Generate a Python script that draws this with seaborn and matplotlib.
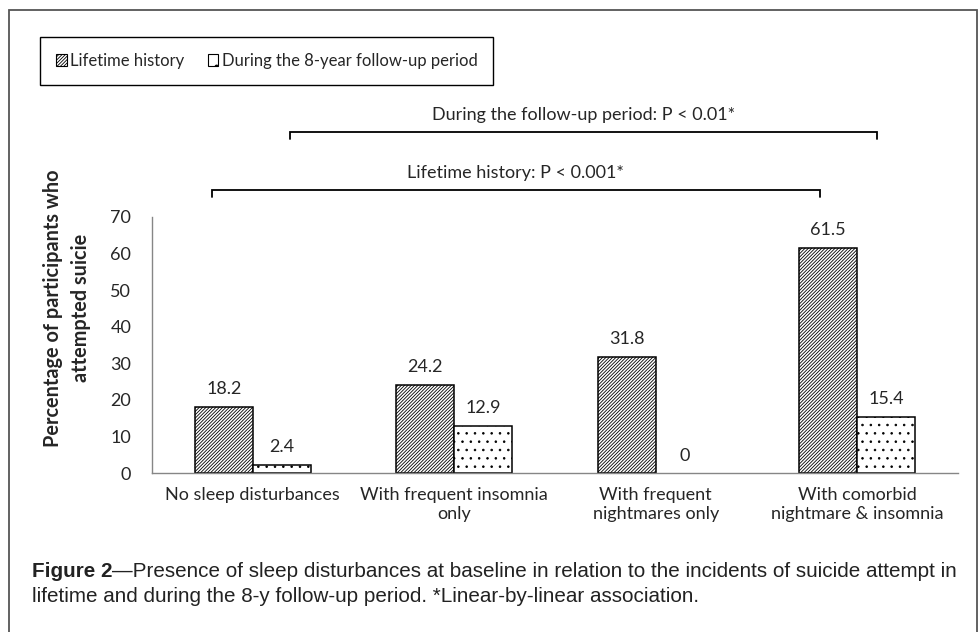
import matplotlib
matplotlib.use("Agg")
import matplotlib.pyplot as plt
from matplotlib.patches import Patch, Rectangle
import seaborn as sns
import pandas as pd

# ---- data ----
categories = ["No sleep disturbances", "With frequent insomnia\nonly",
              "With frequent\nnightmares only", "With comorbid\nnightmare & insomnia"]
series = ["Lifetime history", "During the 8-year follow-up period"]
lifetime = [18.2, 24.2, 31.8, 61.5]
followup = [2.4, 12.9, 0, 15.4]
y_ticks = [0, 10, 20, 30, 40, 50, 60, 70]
ylabel = "Percentage of participants who\nattempted suicie"
bracket_labels = ["Lifetime history: P < 0.001*", "During the follow-up period: P < 0.01*"]
bracket_x = [(-0.203, 2.814), (0.184, 3.10)]
bracket_y = [77.3, 93.1]
caption_bold = "Figure 2"
caption_line1 = "\u2014Presence of sleep disturbances at baseline in relation to the incidents of suicide attempt in"
caption_line2 = "lifetime and during the 8-y follow-up period. *Linear-by-linear association."

sns.set_style("white")
plt.rcParams["font.family"] = ["Lato", "DejaVu Sans"]
plt.rcParams["hatch.linewidth"] = 0.6
plt.rcParams["hatch.color"] = "black"

df = pd.DataFrame({
    "category": categories * 2,
    "series": [series[0]] * 4 + [series[1]] * 4,
    "value": lifetime + followup,
})

fig = plt.figure(figsize=(9.8, 6.32), dpi=100)
ax = fig.add_axes([152 / 980, 1 - 473.3 / 632, 806 / 980, (473.3 - 216.7) / 632])

sns.barplot(data=df, x="category", y="value", hue="series", order=categories,
            hue_order=series, palette=["white", "white"], saturation=1,
            width=0.575, gap=0, edgecolor="black", linewidth=1.1,
            legend=False, ax=ax, err_kws={"linewidth": 0})

hatches = ["//////////", ".."]
for cont, h in zip(ax.containers, hatches):
    for bar in cont:
        bar.set_hatch(h)
        if bar.get_height() == 0:
            bar.set_linewidth(0)

for cont, vals in zip(ax.containers, [lifetime, followup]):
    ax.bar_label(cont, labels=[f"{v:g}" for v in vals], padding=7, fontsize=13)

ax.set_ylim(0, 70)
ax.set_xlim(-0.5, 3.5)
ax.set_yticks(y_ticks)
ax.set_xticks([-0.5, 0.5, 1.5, 2.5, 3.5])
ax.set_xticklabels([])
ax.set_xticks(range(len(categories)), minor=True)
ax.set_xticklabels(categories, minor=True, fontsize=13)
for t in ax.get_xticklabels(minor=True):
    t.set_linespacing(1.2)
ax.tick_params(axis="x", which="major", direction="out", length=5, width=1, color="#868686")
ax.tick_params(axis="x", which="minor", length=0, pad=10)
ax.tick_params(axis="y", direction="out", length=5, width=1, color="#868686", pad=10, labelsize=13)
ax.set_xlabel("")
ax.set_ylabel("")
for s in ["top", "right"]:
    ax.spines[s].set_visible(False)
for s in ["left", "bottom"]:
    ax.spines[s].set_color("#868686")
    ax.spines[s].set_linewidth(1)

# significance brackets
for lab, (x1, x2), yb in zip(bracket_labels, bracket_x, bracket_y):
    tick = 2.0
    ax.plot([x1, x1, x2, x2], [yb - tick, yb, yb, yb - tick], color="black",
            lw=1.3, clip_on=False, solid_joinstyle="miter")
    ax.text((x1 + x2) / 2, yb + 4.6, lab, ha="center", va="center", fontsize=13,
            clip_on=False)

fig.text(67 / 980, 1 - 308 / 632, ylabel, rotation=90, ha="center", va="center",
         fontsize=14.3, fontweight="bold", multialignment="center", linespacing=1.55)

# legend
handles = [Patch(facecolor="white", edgecolor="black", hatch=h, linewidth=0.8)
           for h in ["//////////", "."]]
leg = fig.legend(handles, series, loc="upper left", bbox_to_anchor=(40 / 980, 1 - 37 / 632),
                 ncol=2, frameon=True, fancybox=False, edgecolor="black", framealpha=1,
                 handlelength=0.65, handleheight=0.65, handletextpad=0.2, columnspacing=1.4,
                 borderpad=0.95, borderaxespad=0, fontsize=12)
leg.get_frame().set_linewidth(1.0)

# caption
cap_font = ["Liberation Sans", "DejaVu Sans"]
t1 = fig.text(32 / 980, 1 - 577 / 632, caption_bold, fontsize=14.85, fontweight="bold",
              family=cap_font, va="baseline", ha="left", color="#222222")
ax.annotate(caption_line1, xy=(1, 0), xycoords=t1, va="bottom", ha="left",
            fontsize=14.85, family=cap_font, color="#222222", annotation_clip=False)
fig.text(32 / 980, 1 - 602 / 632, caption_line2, fontsize=14.85, family=cap_font,
         va="baseline", ha="left", color="#222222")

# outer frame
fig.add_artist(Rectangle((9 / 980, -0.05), (977 - 9) / 980, 1 - 10 / 632 + 0.05,
                         transform=fig.transFigure, fill=False, edgecolor="#555555",
                         lw=1.3, clip_on=False))

fig.savefig("out.png", dpi=100)
